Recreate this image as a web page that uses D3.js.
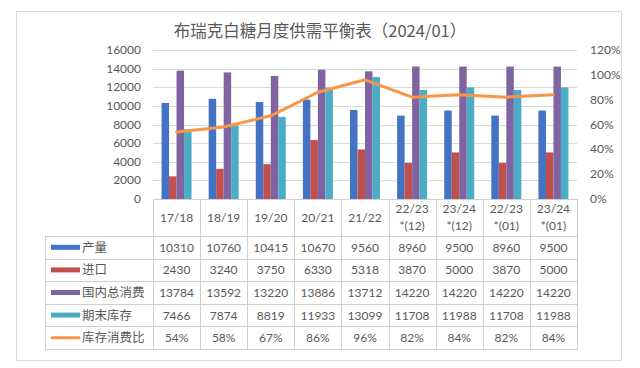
<!DOCTYPE html>
<html>
<head>
<meta charset="utf-8">
<script src="https://cdn.jsdelivr.net/npm/d3@7"></script>
<style>
  body { margin: 0; background: #fff; }
  svg { display: block; }
  text { fill: #595959; }
</style>
</head>
<body>
<svg id="chart" width="640" height="368"></svg>
<script>
// categories and series
const categories = ["17/18", "18/19", "19/20", "20/21", "21/22", "22/23\n*(12)", "23/24\n*(12)", "22/23\n*(01)", "23/24\n*(01)"]
const production = [10310, 10760, 10415, 10670, 9560, 8960, 9500, 8960, 9500]
const imports = [2430, 3240, 3750, 6330, 5318, 3870, 5000, 3870, 5000]
const consumption = [13784, 13592, 13220, 13886, 13712, 14220, 14220, 14220, 14220]
const stocks = [7466, 7874, 8819, 11933, 13099, 11708, 11988, 11708, 11988]
const ratio = [0.54, 0.58, 0.67, 0.86, 0.96, 0.82, 0.84, 0.82, 0.84]

const seriesNames = ["产量", "进口", "国内总消费", "期末库存", "库存消费比"]
const leftTicks = [0, 2000, 4000, 6000, 8000, 10000, 12000, 14000, 16000]
const rightTicks = [0, 0.2, 0.4, 0.6, 0.8, 1.0, 1.2]

const barSeries = [
    { name: seriesNames[0], values: production, color: "#4472C4" },
    { name: seriesNames[1], values: imports, color: "#C0504D" },
    { name: seriesNames[2], values: consumption, color: "#8064A2" },
    { name: seriesNames[3], values: stocks, color: "#4BACC6" }
]
const lineColor = "#F79646"

const numFont = "Lato, 'Open Sans', sans-serif"
const cjkFont = "'Noto Sans CJK SC', sans-serif"

const svg = d3.select("#chart")

// outer frame
svg.append("rect")
    .attr("x", 16.5).attr("y", 11.5)
    .attr("width", 605).attr("height", 349)
    .attr("fill", "#fff")
    .attr("stroke", "#d9d9d9")

// title
svg.append("text")
    .attr("x", 320).attr("y", 37)
    .attr("text-anchor", "middle")
    .attr("font-family", cjkFont)
    .attr("font-size", 16.5)
    .text("布瑞克白糖月度供需平衡表（2024/01）")

const plotLeft = 153, plotRight = 577, plotTop = 50, plotBottom = 199

const x = d3.scaleBand().domain(categories).range([plotLeft, plotRight])
const x1 = d3.scaleBand().domain(d3.range(barSeries.length))
    .range([x.bandwidth() / 2 - 15, x.bandwidth() / 2 + 15])
const y = d3.scaleLinear().domain([0, 16000]).range([plotBottom, plotTop])
const y2 = d3.scaleLinear().domain([0, 1.2]).range([plotBottom, plotTop])

// gridlines
svg.append("g")
    .selectAll("line")
    .data(leftTicks.slice(1))
    .enter().append("line")
    .attr("x1", plotLeft).attr("x2", plotRight)
    .attr("y1", d => Math.round(y(d)) + 0.5)
    .attr("y2", d => Math.round(y(d)) + 0.5)
    .attr("stroke", "#d9d9d9")

// left axis labels
svg.append("g")
    .selectAll("text")
    .data(leftTicks)
    .enter().append("text")
    .attr("x", 141)
    .attr("y", d => y(d) + 4)
    .attr("text-anchor", "end")
    .attr("font-family", numFont)
    .attr("font-size", 12)
    .text(d => d)

// right axis labels
svg.append("g")
    .selectAll("text")
    .data(rightTicks)
    .enter().append("text")
    .attr("x", 590)
    .attr("y", d => y2(d) + 4)
    .attr("font-family", numFont)
    .attr("font-size", 12)
    .text(d => Math.round(d * 100) + "%")

// bars
barSeries.forEach((s, si) => {
    svg.append("g")
        .selectAll("rect")
        .data(s.values)
        .enter().append("rect")
        .attr("fill", s.color)
        .attr("x", (d, i) => x(categories[i]) + x1(si))
        .attr("width", x1.bandwidth())
        .attr("y", d => y(d))
        .attr("height", d => plotBottom - y(d))
})

// ratio line
const line = d3.line()
    .x((d, i) => x(categories[i]) + x.bandwidth() / 2)
    .y(d => y2(d))

svg.append("path")
    .datum(ratio)
    .attr("d", line)
    .attr("fill", "none")
    .attr("stroke", lineColor)
    .attr("stroke-width", 3)
    .attr("stroke-linejoin", "round")
    .attr("stroke-linecap", "round")

// data table
const headerBottom = 236, rowH = 22.6
const gridColor = "#cfcfcf"
const tbl = svg.append("g")

// horizontal lines
tbl.append("line")
    .attr("x1", plotLeft).attr("x2", plotRight)
    .attr("y1", plotBottom + 0.5).attr("y2", plotBottom + 0.5)
    .attr("stroke", gridColor)
d3.range(seriesNames.length + 1).forEach(r => {
    const yy = Math.round(headerBottom + r * rowH) + 0.5
    tbl.append("line")
        .attr("x1", 45).attr("x2", plotRight)
        .attr("y1", yy).attr("y2", yy)
        .attr("stroke", gridColor)
})
const tableBottom = Math.round(headerBottom + seriesNames.length * rowH) + 0.5

// vertical lines
categories.concat([null]).forEach((c, i) => {
    const xx = Math.round(plotLeft + i * x.bandwidth()) + 0.5
    tbl.append("line")
        .attr("x1", xx).attr("x2", xx)
        .attr("y1", plotBottom).attr("y2", tableBottom)
        .attr("stroke", gridColor)
})
tbl.append("line")
    .attr("x1", 45.5).attr("x2", 45.5)
    .attr("y1", headerBottom).attr("y2", tableBottom)
    .attr("stroke", gridColor)

// header labels
categories.forEach(c => {
    const parts = c.split("\n")
    const cx = x(c) + x.bandwidth() / 2
    const t = tbl.append("text")
        .attr("text-anchor", "middle")
        .attr("font-family", numFont)
        .attr("font-size", 12)
    if (parts.length === 1) {
        t.attr("x", cx).attr("y", 222).text(parts[0])
    } else {
        t.append("tspan").attr("x", cx).attr("y", 213).text(parts[0])
        t.append("tspan").attr("x", cx).attr("y", 230).text(parts[1])
    }
})

// rows
const rows = barSeries.map(s => ({ name: s.name, color: s.color, values: s.values, fmt: d => d }))
rows.push({ name: seriesNames[4], color: lineColor, values: ratio, fmt: d => Math.round(d * 100) + "%", isLine: true })

rows.forEach((r, ri) => {
    const cy = headerBottom + ri * rowH + rowH / 2
    // legend key
    if (r.isLine) {
        tbl.append("line")
            .attr("x1", 52).attr("x2", 79)
            .attr("y1", cy).attr("y2", cy)
            .attr("stroke", r.color)
            .attr("stroke-width", 3)
            .attr("stroke-linecap", "round")
    } else {
        tbl.append("rect")
            .attr("x", 51).attr("y", cy - 2.5)
            .attr("width", 29).attr("height", 5)
            .attr("fill", r.color)
    }
    tbl.append("text")
        .attr("x", 82).attr("y", cy + 4.5)
        .attr("font-family", cjkFont)
        .attr("font-size", 12.5)
        .text(r.name)
    tbl.selectAll(null)
        .data(r.values)
        .enter().append("text")
        .attr("x", (d, i) => x(categories[i]) + x.bandwidth() / 2)
        .attr("y", cy + 4.5)
        .attr("text-anchor", "middle")
        .attr("font-family", numFont)
        .attr("font-size", 12)
        .text(r.fmt)
})
</script>
</body>
</html>
